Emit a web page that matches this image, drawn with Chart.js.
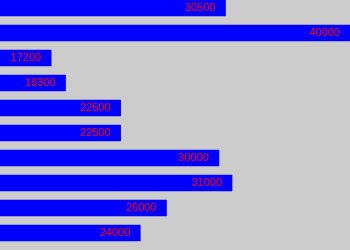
<!DOCTYPE html>
<html>
<head>
<meta charset="utf-8">
<script src="https://cdn.jsdelivr.net/npm/chart.js@4/dist/chart.umd.min.js"></script>
<style>
  html, body { margin: 0; padding: 0; background: #cccccc; }
  #wrap { width: 350px; height: 250px; position: relative; }
</style>
</head>
<body>
<div id="wrap"><canvas id="c" width="350" height="250"></canvas></div>
<script>
const categories = ['r1', 'r2', 'r3', 'r4', 'r5', 'r6', 'r7', 'r8', 'r9', 'r10'];
const salaries = [30500, 40000, 17200, 18300, 22500, 22500, 30000, 31000, 26000, 24000];
const axisMin = 13300;
const axisMax = 40000;

// Writes each bar's value just inside its right end
const valueLabels = {
  id: 'valueLabels',
  afterDatasetsDraw(chart) {
    const ctx = chart.ctx;
    const meta = chart.getDatasetMeta(0);
    ctx.save();
    ctx.font = '11px "Liberation Sans", Arial, sans-serif';
    ctx.fillStyle = '#ff0000';
    ctx.textAlign = 'right';
    ctx.textBaseline = 'middle';
    meta.data.forEach((bar, i) => {
      ctx.fillText(String(salaries[i]), bar.x - 10, bar.y);
    });
    ctx.restore();
  }
};

new Chart(document.getElementById('c'), {
  type: 'bar',
  data: {
    labels: categories,
    datasets: [{
      data: salaries,
      backgroundColor: '#0000ff',
      borderWidth: 0,
      barThickness: 16,
      clip: false
    }]
  },
  options: {
    indexAxis: 'y',
    responsive: false,
    animation: false,
    layout: { padding: { top: 8, bottom: 17, left: 0, right: 0 } },
    plugins: { legend: { display: false }, tooltip: { enabled: false } },
    scales: {
      x: { display: false, min: axisMin, max: axisMax },
      y: { display: false, offset: false }
    }
  },
  plugins: [valueLabels]
});
</script>
</body>
</html>
